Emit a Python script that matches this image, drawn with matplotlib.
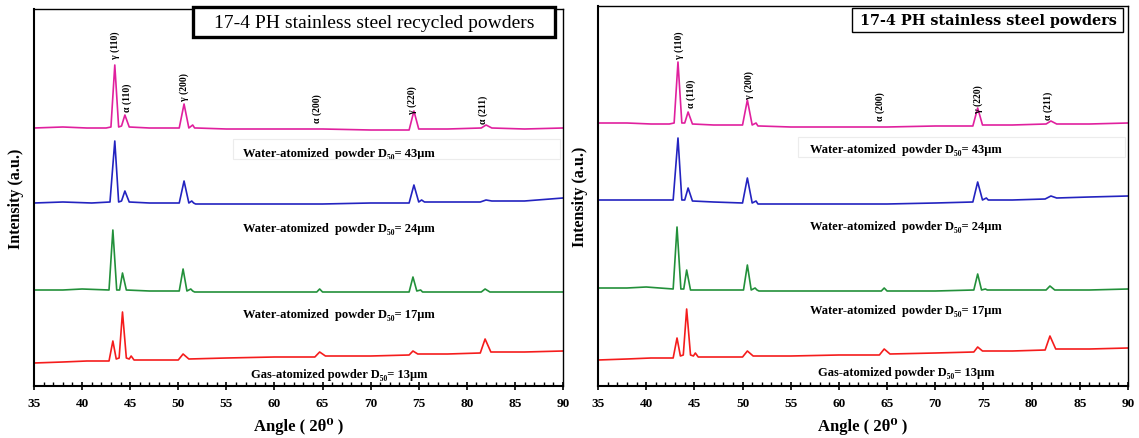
import matplotlib
matplotlib.use("Agg")
import matplotlib.pyplot as plt
from matplotlib.patches import Rectangle
from matplotlib.ticker import MultipleLocator

SERIF = ["Liberation Serif", "DejaVu Serif"]
plt.rcParams["font.family"] = SERIF

# ---------------- data (2theta in degrees, intensity in a.u.) ----------------
# Left panel: recycled powders
L_mag_x = [35, 38, 40.5, 42.5, 43.0, 43.4, 43.8, 44.1, 44.45, 44.9, 47, 50.1, 50.6, 51.1, 51.5, 51.7, 51.9,
           55, 60, 65, 70, 74.0, 74.5, 75.0, 78, 81.5, 82.0, 82.6, 86, 90]
L_mag_y = [258, 259, 258, 258, 259, 321, 259, 260, 271, 259, 258, 258, 282, 258, 261, 258, 258,
           257, 257, 257, 256, 256, 275, 257, 257, 258, 261, 258, 257, 258]

L_blue_x = [35, 38, 41, 42.9, 43.4, 43.8, 44.1, 44.45, 44.9, 47, 50.1, 50.6, 51.1, 51.4, 51.6, 51.8,
            55, 60, 65, 70, 74.0, 74.5, 75.0, 75.3, 75.6, 78, 81.4, 82.0, 82.6, 86, 90]
L_blue_y = [183, 184, 183, 184, 245, 184, 185, 195, 184, 183, 183, 205, 183, 185, 183, 182,
            182, 182, 182, 183, 183, 201, 184, 186, 184, 184, 184, 186, 185, 185, 188]

L_green_x = [35, 38, 40, 42.8, 43.2, 43.6, 43.9, 44.2, 44.6, 47, 50.1, 50.5, 50.9, 51.3, 51.5, 51.7,
             55, 60, 64.4, 64.7, 65.0, 70, 74.0, 74.4, 74.8, 75.2, 75.4, 78, 81.5, 81.9, 82.4, 86, 90]
L_green_y = [96, 96, 97, 96, 156, 96, 96, 113, 96, 95, 95, 117, 95, 97, 95, 94,
             94, 94, 94, 97, 94, 94, 94, 109, 95, 96, 94, 94, 94, 97, 94, 94, 94]

L_red_x = [35, 38, 40.5, 42.8, 43.2, 43.55, 43.85, 44.2, 44.6, 44.9, 45.1, 45.4, 47, 50.0, 50.5, 51.1,
           55, 60, 64.2, 64.7, 65.3, 70, 74.0, 74.4, 74.9, 78, 81.4, 81.9, 82.5, 86, 90]
L_red_y = [23, 24, 25, 25, 45, 27, 28, 74, 28, 27, 30, 26, 26, 26, 32, 27,
           28, 29, 29, 34, 30, 30, 31, 35, 32, 32, 33, 47, 34, 34, 35]

# Right panel: powders
R_mag_x = [35, 38, 40.5, 42.4, 42.9, 43.3, 43.7, 44.0, 44.35, 44.8, 47, 50.0, 50.5, 51.0, 51.4, 51.6, 51.8,
           55, 60, 65, 70, 73.9, 74.4, 74.9, 78, 81.5, 82.0, 82.6, 86, 90]
R_mag_y = [263, 263, 262, 262, 263, 324, 263, 263, 274, 262, 261, 261, 286, 261, 263, 260, 260,
           259, 259, 259, 260, 260, 278, 261, 261, 262, 265, 262, 262, 263]

R_blue_x = [35, 38, 41, 42.8, 43.3, 43.7, 44.0, 44.35, 44.8, 47, 50.0, 50.5, 51.0, 51.4, 51.6, 51.8,
            55, 60, 65, 70, 73.9, 74.4, 74.9, 75.3, 75.5, 78, 81.4, 82.0, 82.6, 86, 90]
R_blue_y = [186, 186, 186, 186, 248, 186, 186, 198, 185, 184, 183, 208, 183, 185, 182, 182,
            182, 182, 182, 183, 184, 204, 186, 188, 186, 186, 187, 190, 188, 189, 190]

R_green_x = [35, 38, 40, 42.8, 43.2, 43.6, 43.9, 44.2, 44.6, 47, 50.1, 50.5, 50.9, 51.3, 51.5, 51.7,
             55, 60, 64.4, 64.7, 65.0, 70, 74.0, 74.4, 74.8, 75.2, 75.4, 78, 81.5, 81.9, 82.4, 86, 90]
R_green_y = [98, 98, 99, 97, 159, 97, 97, 116, 96, 96, 96, 121, 96, 98, 96, 95,
             95, 95, 95, 98, 95, 95, 96, 112, 96, 97, 96, 96, 96, 100, 96, 96, 97]

R_red_x = [35, 38, 40.5, 42.8, 43.2, 43.55, 43.85, 44.2, 44.6, 44.9, 45.1, 45.4, 47, 50.0, 50.5, 51.1,
           55, 60, 64.2, 64.7, 65.3, 70, 74.0, 74.4, 74.9, 78, 81.4, 81.9, 82.5, 86, 90]
R_red_y = [26, 27, 28, 28, 48, 30, 31, 77, 31, 30, 33, 29, 29, 29, 35, 30,
           30, 31, 31, 37, 32, 33, 34, 39, 35, 35, 36, 50, 37, 37, 38]

peak_labels = ["γ (110)", "α (110)", "γ (200)", "α (200)", "γ (220)", "α (211)"]
L_peak_x = [43.4, 44.7, 50.6, 64.4, 74.3, 81.7]
L_peak_y = [342, 289, 300, 278, 287, 277]
R_peak_x = [43.45, 44.7, 50.7, 64.3, 74.5, 81.7]
R_peak_y = [342, 293, 302, 280, 288, 281]

sample_labels = ["Water-atomized  powder D₅₀= 43μm", "Water-atomized  powder D₅₀= 24μm",
                 "Water-atomized  powder D₅₀= 17μm", "Gas-atomized powder D₅₀= 13μm"]
L_label_y = [233, 158, 72, 12]
R_label_y = [237, 160, 76, 14]

colors = ["#e0209e", "#2323c0", "#22903a", "#f51c1c"]

# ---------------- figure ----------------
W, H = 1139, 439
fig = plt.figure(figsize=(W / 100, H / 100), dpi=100)

def fx(px):
    return px / W

def fy(py):
    return 1 - py / H

axL = fig.add_axes([fx(34), fy(387), fx(563) - fx(34), fy(10) - fy(387)])
axR = fig.add_axes([fx(598), fy(387), fx(1128) - fx(598), fy(7) - fy(387)])

panels = [
    (axL, [(L_mag_x, L_mag_y), (L_blue_x, L_blue_y), (L_green_x, L_green_y), (L_red_x, L_red_y)],
     L_peak_x, L_peak_y, L_label_y, 66.7, 377),
    (axR, [(R_mag_x, R_mag_y), (R_blue_x, R_blue_y), (R_green_x, R_green_y), (R_red_x, R_red_y)],
     R_peak_x, R_peak_y, R_label_y, 67.0, 380),
]

for ax, curves, px, py, ly, lx, ytop in panels:
    for (xs, ys), c in zip(curves, colors):
        ax.plot(xs, ys, color=c, lw=1.2)
    ax.set_xlim(35, 90)
    ax.set_ylim(0, ytop)
    ax.set_yticks([])
    ax.xaxis.set_major_locator(MultipleLocator(5))
    ax.xaxis.set_minor_locator(MultipleLocator(1))
    ax.tick_params(axis="x", which="major", direction="inout", length=6, width=1.2, pad=5,
                   labelsize=9.5)
    ax.tick_params(axis="x", which="minor", direction="in", length=3, width=1.0)
    for lab in ax.get_xticklabels():
        lab.set_fontweight("bold")
    for s in ax.spines.values():
        s.set_linewidth(1.0)
    ax.spines["bottom"].set_linewidth(1.5)
    ax.spines["left"].set_linewidth(1.5)
    ax.set_xlabel("Angle ( 2θ⁰ )", fontsize=12, fontweight="bold", labelpad=6)
    ax.set_ylabel("Intensity (a.u.)", fontsize=11.5, fontweight="bold", labelpad=7)
    for t, x, y in zip(peak_labels, px, py):
        ax.text(x, y, t, rotation=90, fontsize=7, fontweight="bold", ha="center", va="center")
    for i, (t, y) in enumerate(zip(sample_labels, ly)):
        ax.text(lx, y, t, fontsize=9, fontweight="bold", ha="center", va="center")

# faint boxes around the 43um labels
fig.patches.append(Rectangle((fx(233), fy(160)), fx(560) - fx(233), fy(140) - fy(160),
                             transform=fig.transFigure, fill=False, ec="#ececec", lw=0.8))
fig.patches.append(Rectangle((fx(798), fy(158)), fx(1125) - fx(798), fy(138) - fy(158),
                             transform=fig.transFigure, fill=False, ec="#ececec", lw=0.8))

# title boxes
fig.patches.append(Rectangle((fx(193), fy(38)), fx(555) - fx(193), fy(8) - fy(38),
                             transform=fig.transFigure, fc="white", ec="black", lw=2.4, zorder=5))
fig.text(fx(374), fy(23), "17-4 PH stainless steel recycled powders", fontsize=14,
         ha="center", va="center", zorder=6, family=SERIF)
fig.patches.append(Rectangle((fx(852), fy(33)), fx(1123) - fx(852), fy(9) - fy(33),
                             transform=fig.transFigure, fc="white", ec="black", lw=1.0, zorder=5))
fig.text(fx(988), fy(21), "17-4 PH stainless steel powders", fontsize=10.4,
         ha="center", va="center", zorder=6, family=["DejaVu Serif"], fontweight="semibold")

fig.savefig("out.png", dpi=100)
